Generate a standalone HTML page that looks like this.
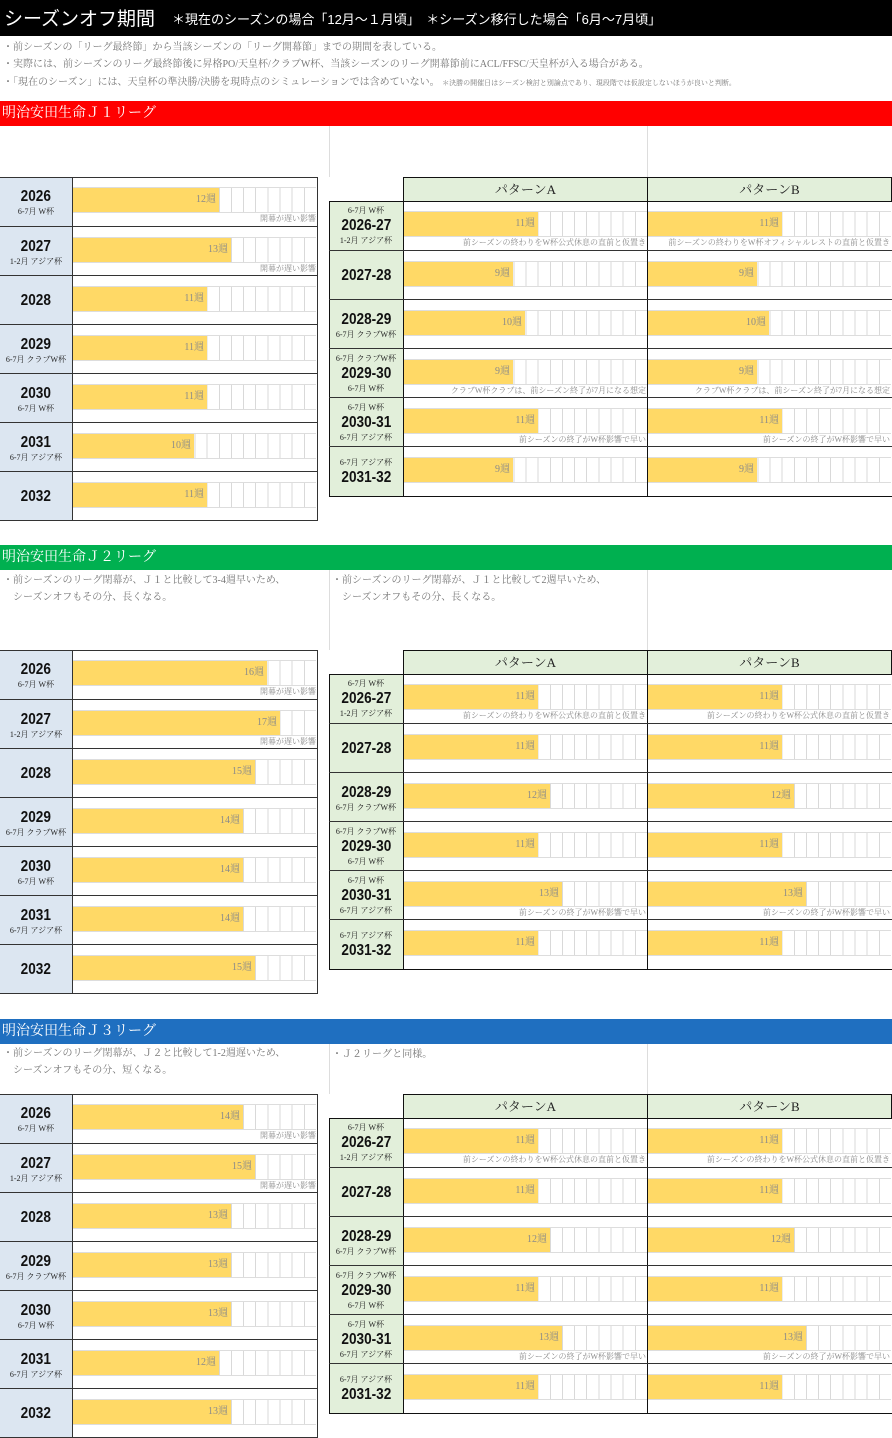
<!DOCTYPE html>
<html><head><meta charset="utf-8"><style>
*{margin:0;padding:0;box-sizing:border-box}
body{width:892px;height:1438px;background:#fff;position:relative;overflow:hidden;font-family:"Liberation Serif","Noto Serif CJK SC",serif;color:#777}
.a{position:absolute}
.title{left:0;top:0;width:892px;height:36px;background:#000;color:#fff;font-family:"Liberation Sans","Noto Sans CJK JP",sans-serif}
.sec{left:0;width:892px;height:25px;color:#fff;font-size:14px;line-height:25px;padding-left:2px}
.note{font-size:10px;color:#777;white-space:nowrap}
.vl{width:1px;background:#ddd}
.tbl{left:0;width:892px}
.lt{position:absolute;left:0;top:0;width:318px;height:344px;border:1px solid #333;border-left:none}
.row{position:absolute;height:49px;border-top:1px solid #333}
.lab{position:absolute;left:0;top:0;height:49px;display:flex;flex-direction:column;justify-content:center;align-items:center;text-align:center}
.yr{font-family:"Liberation Sans",sans-serif;font-weight:bold;font-size:16px;color:#111;line-height:19px;transform:scaleX(.85)}
.sub{font-size:8px;color:#222;line-height:11px;white-space:nowrap}
.trk{position:absolute;top:10px;width:243px;height:26px;border-top:1px solid #ddd;border-bottom:1px solid #ddd;background:repeating-linear-gradient(to right,#d9d9d9 0 1px,#fff 1px 12.15px)}
.bar{position:absolute;left:0;top:0;height:24px;background:#ffd966;text-align:right;font-size:10px;line-height:24px;color:#8a8a8a;padding-right:3px}
.nt{position:absolute;top:37px;font-size:8px;color:#8a8a8a;text-align:right;white-space:nowrap;line-height:10px}
.rt{position:absolute;left:329px;top:24px;width:563px;height:296px;border:1px solid #111;border-right:none}
.hd{position:absolute;top:0;height:25px;background:#e2efda;border:1px solid #111;font-size:13px;color:#222;text-align:center;line-height:23px}
</style></head><body>

<div class="a title"><span style="position:absolute;left:4px;top:4px;font-size:19px">シーズンオフ期間</span><span style="position:absolute;left:172px;top:9px;font-size:13px">＊現在のシーズンの場合「12月～１月頃」　＊シーズン移行した場合「6月～7月頃」</span></div>
<div class="a note" style="left:3px;top:38px">・前シーズンの「リーグ最終節」から当該シーズンの「リーグ開幕節」までの期間を表している。</div>
<div class="a note" style="left:3px;top:55px">・実際には、前シーズンのリーグ最終節後に昇格PO/天皇杯/クラブW杯、当該シーズンのリーグ開幕節前にACL/FFSC/天皇杯が入る場合がある。</div>
<div class="a note" style="left:3px;top:73px">・「現在のシーズン」には、天皇杯の準決勝/決勝を現時点のシミュレーションでは含めていない。 <span style="font-size:7px">＊決勝の開催日はシーズン検討と別論点であり、現段階では仮設定しないほうが良いと判断。</span></div>

<div class="a sec" style="top:101px;background:#ff0000">明治安田生命Ｊ１リーグ</div>
<div class="a vl" style="left:329px;top:126px;height:51px"></div>
<div class="a vl" style="left:647px;top:126px;height:51px"></div>

<div class="a sec" style="top:545px;background:#00b050">明治安田生命Ｊ２リーグ</div>
<div class="a vl" style="left:329px;top:570px;height:80px"></div>
<div class="a vl" style="left:647px;top:570px;height:80px"></div>
<div class="a note" style="left:3px;top:572px;line-height:17px">・前シーズンのリーグ閉幕が、Ｊ１と比較して3-4週早いため、<br>　シーズンオフもその分、長くなる。</div>
<div class="a note" style="left:332px;top:572px;line-height:17px">・前シーズンのリーグ閉幕が、Ｊ１と比較して2週早いため、<br>　シーズンオフもその分、長くなる。</div>

<div class="a sec" style="top:1019px;background:#1f6fc0">明治安田生命Ｊ３リーグ</div>
<div class="a vl" style="left:329px;top:1044px;height:50px"></div>
<div class="a vl" style="left:647px;top:1044px;height:50px"></div>
<div class="a note" style="left:3px;top:1045px;line-height:17px">・前シーズンのリーグ閉幕が、Ｊ２と比較して1-2週遅いため、<br>　シーズンオフもその分、短くなる。</div>
<div class="a note" style="left:332px;top:1045px">・Ｊ２リーグと同様。</div>

<div class="a tbl" style="top:177px">
 <div class="lt" style="background:linear-gradient(to right,#dce6f1 0 72px,#fff 72px)"></div>
 <div class="a" style="left:72px;top:0;width:1px;height:344px;background:#333"></div>
 <div class="row" style="left:0;top:0;width:318px;border-top:none"><div class="lab" style="width:72px"><div class="yr">2026</div><div class="sub">6-7月 W杯</div></div><div class="trk" style="left:73px"><div class="bar" style="width:146px">12週</div></div><div class="nt" style="right:2px">開幕が遅い影響</div></div>
 <div class="row" style="left:0;top:49px;width:318px"><div class="lab" style="width:72px"><div class="yr">2027</div><div class="sub">1-2月 アジア杯</div></div><div class="trk" style="left:73px"><div class="bar" style="width:158px">13週</div></div><div class="nt" style="right:2px">開幕が遅い影響</div></div>
 <div class="row" style="left:0;top:98px;width:318px"><div class="lab" style="width:72px"><div class="yr">2028</div></div><div class="trk" style="left:73px"><div class="bar" style="width:134px">11週</div></div></div>
 <div class="row" style="left:0;top:147px;width:318px"><div class="lab" style="width:72px"><div class="yr">2029</div><div class="sub">6-7月 クラブW杯</div></div><div class="trk" style="left:73px"><div class="bar" style="width:134px">11週</div></div></div>
 <div class="row" style="left:0;top:196px;width:318px"><div class="lab" style="width:72px"><div class="yr">2030</div><div class="sub">6-7月 W杯</div></div><div class="trk" style="left:73px"><div class="bar" style="width:134px">11週</div></div></div>
 <div class="row" style="left:0;top:245px;width:318px"><div class="lab" style="width:72px"><div class="yr">2031</div><div class="sub">6-7月 アジア杯</div></div><div class="trk" style="left:73px"><div class="bar" style="width:121px">10週</div></div></div>
 <div class="row" style="left:0;top:294px;width:318px"><div class="lab" style="width:72px"><div class="yr">2032</div></div><div class="trk" style="left:73px"><div class="bar" style="width:134px">11週</div></div></div>

 <div class="rt" style="background:linear-gradient(to right,#e2efda 0 74px,#fff 74px)"></div>
 <div class="hd" style="left:403px;width:245px">パターンA</div>
 <div class="hd" style="left:647px;width:245px">パターンB</div>
 <div class="a" style="left:403px;top:24px;width:1px;height:296px;background:#111"></div>
 <div class="a" style="left:647px;top:24px;width:1px;height:296px;background:#111"></div>

 <div class="row" style="left:329px;top:24px;width:563px;border-top:none"><div class="lab" style="width:74px"><div class="sub">6-7月 W杯</div><div class="yr">2026-27</div><div class="sub">1-2月 アジア杯</div></div><div class="trk" style="left:75px"><div class="bar" style="width:134px">11週</div></div><div class="trk" style="left:319px"><div class="bar" style="width:134px">11週</div></div><div class="nt" style="right:246px">前シーズンの終わりをW杯公式休息の直前と仮置き</div><div class="nt" style="right:2px">前シーズンの終わりをW杯オフィシャルレストの直前と仮置き</div></div>
 <div class="row" style="left:329px;top:73px;width:563px"><div class="lab" style="width:74px"><div class="yr">2027-28</div></div><div class="trk" style="left:75px"><div class="bar" style="width:109px">9週</div></div><div class="trk" style="left:319px"><div class="bar" style="width:109px">9週</div></div></div>
 <div class="row" style="left:329px;top:122px;width:563px"><div class="lab" style="width:74px"><div class="yr">2028-29</div><div class="sub">6-7月 クラブW杯</div></div><div class="trk" style="left:75px"><div class="bar" style="width:121px">10週</div></div><div class="trk" style="left:319px"><div class="bar" style="width:121px">10週</div></div></div>
 <div class="row" style="left:329px;top:171px;width:563px"><div class="lab" style="width:74px"><div class="sub">6-7月 クラブW杯</div><div class="yr">2029-30</div><div class="sub">6-7月 W杯</div></div><div class="trk" style="left:75px"><div class="bar" style="width:109px">9週</div></div><div class="trk" style="left:319px"><div class="bar" style="width:109px">9週</div></div><div class="nt" style="right:246px">クラブW杯クラブは、前シーズン終了が7月になる想定</div><div class="nt" style="right:2px">クラブW杯クラブは、前シーズン終了が7月になる想定</div></div>
 <div class="row" style="left:329px;top:220px;width:563px"><div class="lab" style="width:74px"><div class="sub">6-7月 W杯</div><div class="yr">2030-31</div><div class="sub">6-7月 アジア杯</div></div><div class="trk" style="left:75px"><div class="bar" style="width:134px">11週</div></div><div class="trk" style="left:319px"><div class="bar" style="width:134px">11週</div></div><div class="nt" style="right:246px">前シーズンの終了がW杯影響で早い</div><div class="nt" style="right:2px">前シーズンの終了がW杯影響で早い</div></div>
 <div class="row" style="left:329px;top:269px;width:563px"><div class="lab" style="width:74px"><div class="sub">6-7月 アジア杯</div><div class="yr">2031-32</div></div><div class="trk" style="left:75px"><div class="bar" style="width:109px">9週</div></div><div class="trk" style="left:319px"><div class="bar" style="width:109px">9週</div></div></div>
</div>

<div class="a tbl" style="top:650px">
 <div class="lt" style="background:linear-gradient(to right,#dce6f1 0 72px,#fff 72px)"></div>
 <div class="a" style="left:72px;top:0;width:1px;height:344px;background:#333"></div>
 <div class="row" style="left:0;top:0;width:318px;border-top:none"><div class="lab" style="width:72px"><div class="yr">2026</div><div class="sub">6-7月 W杯</div></div><div class="trk" style="left:73px"><div class="bar" style="width:194px">16週</div></div><div class="nt" style="right:2px">開幕が遅い影響</div></div>
 <div class="row" style="left:0;top:49px;width:318px"><div class="lab" style="width:72px"><div class="yr">2027</div><div class="sub">1-2月 アジア杯</div></div><div class="trk" style="left:73px"><div class="bar" style="width:207px">17週</div></div><div class="nt" style="right:2px">開幕が遅い影響</div></div>
 <div class="row" style="left:0;top:98px;width:318px"><div class="lab" style="width:72px"><div class="yr">2028</div></div><div class="trk" style="left:73px"><div class="bar" style="width:182px">15週</div></div></div>
 <div class="row" style="left:0;top:147px;width:318px"><div class="lab" style="width:72px"><div class="yr">2029</div><div class="sub">6-7月 クラブW杯</div></div><div class="trk" style="left:73px"><div class="bar" style="width:170px">14週</div></div></div>
 <div class="row" style="left:0;top:196px;width:318px"><div class="lab" style="width:72px"><div class="yr">2030</div><div class="sub">6-7月 W杯</div></div><div class="trk" style="left:73px"><div class="bar" style="width:170px">14週</div></div></div>
 <div class="row" style="left:0;top:245px;width:318px"><div class="lab" style="width:72px"><div class="yr">2031</div><div class="sub">6-7月 アジア杯</div></div><div class="trk" style="left:73px"><div class="bar" style="width:170px">14週</div></div></div>
 <div class="row" style="left:0;top:294px;width:318px"><div class="lab" style="width:72px"><div class="yr">2032</div></div><div class="trk" style="left:73px"><div class="bar" style="width:182px">15週</div></div></div>

 <div class="rt" style="background:linear-gradient(to right,#e2efda 0 74px,#fff 74px)"></div>
 <div class="hd" style="left:403px;width:245px">パターンA</div>
 <div class="hd" style="left:647px;width:245px">パターンB</div>
 <div class="a" style="left:403px;top:24px;width:1px;height:296px;background:#111"></div>
 <div class="a" style="left:647px;top:24px;width:1px;height:296px;background:#111"></div>

 <div class="row" style="left:329px;top:24px;width:563px;border-top:none"><div class="lab" style="width:74px"><div class="sub">6-7月 W杯</div><div class="yr">2026-27</div><div class="sub">1-2月 アジア杯</div></div><div class="trk" style="left:75px"><div class="bar" style="width:134px">11週</div></div><div class="trk" style="left:319px"><div class="bar" style="width:134px">11週</div></div><div class="nt" style="right:246px">前シーズンの終わりをW杯公式休息の直前と仮置き</div><div class="nt" style="right:2px">前シーズンの終わりをW杯公式休息の直前と仮置き</div></div>
 <div class="row" style="left:329px;top:73px;width:563px"><div class="lab" style="width:74px"><div class="yr">2027-28</div></div><div class="trk" style="left:75px"><div class="bar" style="width:134px">11週</div></div><div class="trk" style="left:319px"><div class="bar" style="width:134px">11週</div></div></div>
 <div class="row" style="left:329px;top:122px;width:563px"><div class="lab" style="width:74px"><div class="yr">2028-29</div><div class="sub">6-7月 クラブW杯</div></div><div class="trk" style="left:75px"><div class="bar" style="width:146px">12週</div></div><div class="trk" style="left:319px"><div class="bar" style="width:146px">12週</div></div></div>
 <div class="row" style="left:329px;top:171px;width:563px"><div class="lab" style="width:74px"><div class="sub">6-7月 クラブW杯</div><div class="yr">2029-30</div><div class="sub">6-7月 W杯</div></div><div class="trk" style="left:75px"><div class="bar" style="width:134px">11週</div></div><div class="trk" style="left:319px"><div class="bar" style="width:134px">11週</div></div></div>
 <div class="row" style="left:329px;top:220px;width:563px"><div class="lab" style="width:74px"><div class="sub">6-7月 W杯</div><div class="yr">2030-31</div><div class="sub">6-7月 アジア杯</div></div><div class="trk" style="left:75px"><div class="bar" style="width:158px">13週</div></div><div class="trk" style="left:319px"><div class="bar" style="width:158px">13週</div></div><div class="nt" style="right:246px">前シーズンの終了がW杯影響で早い</div><div class="nt" style="right:2px">前シーズンの終了がW杯影響で早い</div></div>
 <div class="row" style="left:329px;top:269px;width:563px"><div class="lab" style="width:74px"><div class="sub">6-7月 アジア杯</div><div class="yr">2031-32</div></div><div class="trk" style="left:75px"><div class="bar" style="width:134px">11週</div></div><div class="trk" style="left:319px"><div class="bar" style="width:134px">11週</div></div></div>
</div>

<div class="a tbl" style="top:1094px">
 <div class="lt" style="background:linear-gradient(to right,#dce6f1 0 72px,#fff 72px)"></div>
 <div class="a" style="left:72px;top:0;width:1px;height:344px;background:#333"></div>
 <div class="row" style="left:0;top:0;width:318px;border-top:none"><div class="lab" style="width:72px"><div class="yr">2026</div><div class="sub">6-7月 W杯</div></div><div class="trk" style="left:73px"><div class="bar" style="width:170px">14週</div></div><div class="nt" style="right:2px">開幕が遅い影響</div></div>
 <div class="row" style="left:0;top:49px;width:318px"><div class="lab" style="width:72px"><div class="yr">2027</div><div class="sub">1-2月 アジア杯</div></div><div class="trk" style="left:73px"><div class="bar" style="width:182px">15週</div></div><div class="nt" style="right:2px">開幕が遅い影響</div></div>
 <div class="row" style="left:0;top:98px;width:318px"><div class="lab" style="width:72px"><div class="yr">2028</div></div><div class="trk" style="left:73px"><div class="bar" style="width:158px">13週</div></div></div>
 <div class="row" style="left:0;top:147px;width:318px"><div class="lab" style="width:72px"><div class="yr">2029</div><div class="sub">6-7月 クラブW杯</div></div><div class="trk" style="left:73px"><div class="bar" style="width:158px">13週</div></div></div>
 <div class="row" style="left:0;top:196px;width:318px"><div class="lab" style="width:72px"><div class="yr">2030</div><div class="sub">6-7月 W杯</div></div><div class="trk" style="left:73px"><div class="bar" style="width:158px">13週</div></div></div>
 <div class="row" style="left:0;top:245px;width:318px"><div class="lab" style="width:72px"><div class="yr">2031</div><div class="sub">6-7月 アジア杯</div></div><div class="trk" style="left:73px"><div class="bar" style="width:146px">12週</div></div></div>
 <div class="row" style="left:0;top:294px;width:318px"><div class="lab" style="width:72px"><div class="yr">2032</div></div><div class="trk" style="left:73px"><div class="bar" style="width:158px">13週</div></div></div>

 <div class="rt" style="background:linear-gradient(to right,#e2efda 0 74px,#fff 74px)"></div>
 <div class="hd" style="left:403px;width:245px">パターンA</div>
 <div class="hd" style="left:647px;width:245px">パターンB</div>
 <div class="a" style="left:403px;top:24px;width:1px;height:296px;background:#111"></div>
 <div class="a" style="left:647px;top:24px;width:1px;height:296px;background:#111"></div>

 <div class="row" style="left:329px;top:24px;width:563px;border-top:none"><div class="lab" style="width:74px"><div class="sub">6-7月 W杯</div><div class="yr">2026-27</div><div class="sub">1-2月 アジア杯</div></div><div class="trk" style="left:75px"><div class="bar" style="width:134px">11週</div></div><div class="trk" style="left:319px"><div class="bar" style="width:134px">11週</div></div><div class="nt" style="right:246px">前シーズンの終わりをW杯公式休息の直前と仮置き</div><div class="nt" style="right:2px">前シーズンの終わりをW杯公式休息の直前と仮置き</div></div>
 <div class="row" style="left:329px;top:73px;width:563px"><div class="lab" style="width:74px"><div class="yr">2027-28</div></div><div class="trk" style="left:75px"><div class="bar" style="width:134px">11週</div></div><div class="trk" style="left:319px"><div class="bar" style="width:134px">11週</div></div></div>
 <div class="row" style="left:329px;top:122px;width:563px"><div class="lab" style="width:74px"><div class="yr">2028-29</div><div class="sub">6-7月 クラブW杯</div></div><div class="trk" style="left:75px"><div class="bar" style="width:146px">12週</div></div><div class="trk" style="left:319px"><div class="bar" style="width:146px">12週</div></div></div>
 <div class="row" style="left:329px;top:171px;width:563px"><div class="lab" style="width:74px"><div class="sub">6-7月 クラブW杯</div><div class="yr">2029-30</div><div class="sub">6-7月 W杯</div></div><div class="trk" style="left:75px"><div class="bar" style="width:134px">11週</div></div><div class="trk" style="left:319px"><div class="bar" style="width:134px">11週</div></div></div>
 <div class="row" style="left:329px;top:220px;width:563px"><div class="lab" style="width:74px"><div class="sub">6-7月 W杯</div><div class="yr">2030-31</div><div class="sub">6-7月 アジア杯</div></div><div class="trk" style="left:75px"><div class="bar" style="width:158px">13週</div></div><div class="trk" style="left:319px"><div class="bar" style="width:158px">13週</div></div><div class="nt" style="right:246px">前シーズンの終了がW杯影響で早い</div><div class="nt" style="right:2px">前シーズンの終了がW杯影響で早い</div></div>
 <div class="row" style="left:329px;top:269px;width:563px"><div class="lab" style="width:74px"><div class="sub">6-7月 アジア杯</div><div class="yr">2031-32</div></div><div class="trk" style="left:75px"><div class="bar" style="width:134px">11週</div></div><div class="trk" style="left:319px"><div class="bar" style="width:134px">11週</div></div></div>
</div>

</body></html>
